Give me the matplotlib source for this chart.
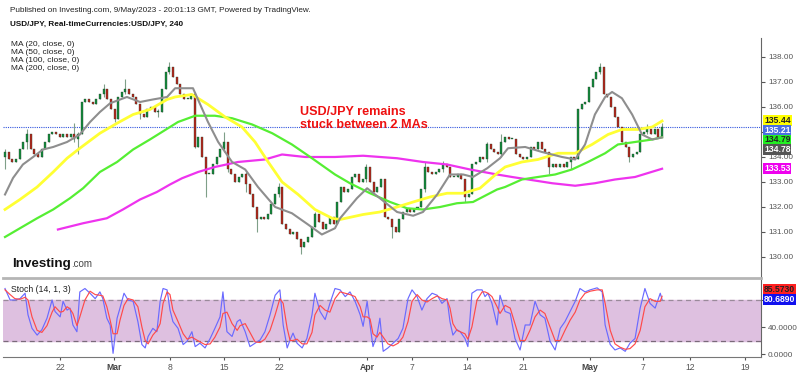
import numpy as np
import matplotlib
matplotlib.use("Agg")
import matplotlib.pyplot as plt
import matplotlib.transforms as mtransforms

plt.rcParams['font.family'] = ['Liberation Sans', 'DejaVu Sans']

# 8h-style candles (close of each bar), x = bar index
closes = [
    134.2, 133.9, 133.8, 133.9, 134.3, 134.6, 134.9, 134.3, 134.1, 134.0,
    134.3, 134.6, 134.9, 135.0, 134.9, 134.8, 134.9, 134.8, 134.9, 134.7,
    134.9, 136.2, 136.3, 136.2, 136.1, 136.3, 136.5, 136.7, 136.3, 135.9,
    135.5, 136.4, 136.6, 136.7, 136.5, 136.4, 136.1, 135.7, 135.6, 135.9,
    136.0, 135.8, 135.8, 136.7, 137.4, 137.6, 137.2, 136.9, 136.5, 136.3,
    136.3, 136.5, 134.4, 134.8, 134.0, 133.3, 133.3, 133.7, 134.0, 134.3,
    134.6, 133.5, 133.3, 133.0, 133.2, 133.3, 132.9, 132.5, 132.0, 131.5,
    131.6, 131.5, 131.7, 132.1, 132.5, 132.8, 131.3, 131.1, 130.9, 131.0,
    130.7, 130.4, 130.6, 130.8, 131.2, 131.7, 131.4, 131.1, 131.3, 131.6,
    131.3, 132.2, 132.8, 132.6, 132.7, 133.2, 133.3, 133.0, 133.1, 133.6,
    133.0, 132.6, 132.8, 133.1, 131.6, 131.5, 131.2, 131.0, 131.5, 131.8,
    131.9, 131.8, 131.9, 132.0, 132.7, 133.6, 133.4, 133.3, 133.4, 133.5,
    133.7, 133.6, 133.2, 133.2, 133.3, 133.1, 132.4, 132.5, 133.7, 133.8,
    134.0, 133.9, 134.5, 134.3, 134.2, 134.1, 134.6, 134.8, 134.7, 134.7,
    134.1, 134.0, 133.9, 134.0, 134.4, 134.3, 134.6, 134.3, 134.2, 133.6,
    133.7, 133.6, 133.7, 133.6, 133.8, 134.0, 133.9, 135.9, 136.1, 136.2,
    136.8, 137.1, 137.4, 137.6, 136.5, 136.4, 136.0, 135.6, 135.2, 134.6,
    134.4, 134.0, 134.1, 134.2, 134.9, 135.0, 135.1, 134.9, 135.1, 134.8,
    135.21,
]
first_open = 134.0

# bars with visible wicks: index, high, low
wick_idx = [0, 6, 19, 20, 27, 30, 33, 37, 42, 45, 52, 55, 60, 61, 66, 69, 75, 81,
            85, 99, 106, 115, 120, 126, 132, 136, 149, 155, 163, 171, 176, 180]
wick_high = [134.3, 135.1, 135.35, 135.0, 136.9, 135.9, 137.1, 136.1, 135.9, 137.8,
             136.6, 134.0, 135.0, 134.6, 133.4, 132.0, 132.95, 130.7, 131.8, 133.7,
             131.5, 133.8, 133.85, 133.1, 134.6, 134.9, 134.2, 134.0, 137.75, 134.3,
             135.3, 135.35]
wick_low = [133.5, 134.3, 134.6, 134.1, 136.4, 135.4, 136.5, 135.5, 135.6, 137.3,
            134.35, 132.4, 134.2, 133.4, 132.6, 131.0, 132.4, 130.1, 131.2, 133.0,
            130.75, 132.6, 133.4, 132.2, 133.8, 134.0, 133.3, 133.5, 137.3, 133.8,
            134.9, 134.8]

# moving averages
ma20_x = [0, 2.2, 4.9, 7.7, 10.4, 13.2, 17.0, 20.5, 23.3, 26.0,
          28.8, 33.4, 37.0, 40.5, 44.4, 46.6, 51.5, 55.6, 58.4, 62.2,
          65.8, 69.3, 74.0, 78.6, 83.0, 86.8, 90.4, 91.8, 96.4, 99.2,
          102.7, 107.4, 111.8, 114.5, 118.4, 121.9, 125.5, 128.2, 132.1, 135.6,
          137.8, 142.5, 147.1, 152.6, 156.2, 158.9, 161.6, 164.4, 166.3, 169.0,
          171.8, 174.5, 177.3, 180.0]
ma20_y = [132.5, 133.16, 133.7, 134.0, 134.3, 134.4, 134.6, 134.9, 135.4, 135.8,
          136.15, 136.4, 136.2, 136.3, 136.4, 136.75, 136.75, 135.4, 134.6, 133.8,
          133.5, 132.8, 132.0, 131.75, 131.3, 130.9, 131.15, 131.55, 132.35, 132.75,
          132.35, 131.8, 131.65, 131.8, 132.5, 133.3, 133.3, 133.2, 133.55, 133.95,
          134.35, 134.4, 134.2, 134.0, 133.9, 134.5, 135.7, 136.4, 136.6, 136.35,
          135.7, 134.9, 134.7, 134.78]

ma50_x = [0, 4.1, 8.8, 13.2, 17.0, 20.5, 26.0, 30.7, 35.1, 39.7,
          44.4, 46.6, 51.2, 55.6, 60.3, 64.9, 68.5, 72.1, 75.9, 80.3,
          84.9, 89.6, 91.8, 98.1, 102.7, 107.4, 111.8, 116.4, 121.1, 125.5,
          130.1, 134.8, 137.0, 141.6, 146.0, 151.5, 156.2, 160.8, 165.2, 169.0,
          173.4, 177.3, 180.0]
ma50_y = [131.9, 132.3, 132.8, 133.4, 133.95, 134.35, 134.95, 135.35, 135.7, 135.9,
          136.3, 136.4, 136.5, 136.1, 135.6, 135.2, 134.6, 133.8, 133.0, 132.5,
          131.9, 131.55, 131.5, 131.7, 131.8, 132.0, 132.2, 132.4, 132.55, 132.55,
          132.75, 133.35, 133.6, 133.8, 133.9, 134.15, 134.15, 134.5, 134.9, 135.1,
          135.1, 135.2, 135.44]

ma100_x = [0, 4.1, 8.8, 13.2, 17.8, 21.4, 26.0, 30.7, 35.1, 39.7,
           45.2, 47.4, 52.1, 57.5, 62.2, 67.7, 73.2, 78.6, 84.1, 90.4,
           94.5, 100.0, 105.5, 110.1, 114.5, 119.2, 123.8, 128.2, 134.8, 137.0,
           141.6, 146.0, 150.7, 155.3, 159.7, 164.4, 167.9, 172.6, 177.3, 180.0]
ma100_y = [130.8, 131.15, 131.55, 131.9, 132.35, 132.75, 133.4, 133.8, 134.3, 134.7,
           135.2, 135.4, 135.65, 135.65, 135.55, 135.3, 134.95, 134.5, 133.95, 133.3,
           132.95, 132.55, 132.2, 131.95, 131.9, 132.0, 132.15, 132.2, 132.7, 132.8,
           133.1, 133.2, 133.3, 133.5, 133.8, 134.15, 134.5, 134.6, 134.7, 134.79]

ma200_x = [14.5, 21.4, 27.9, 32.3, 37.0, 41.6, 45.2, 48.5, 52.9, 57.5,
           63.8, 71.2, 75.9, 82.2, 90.4, 98.1, 107.4, 114.5, 121.1, 127.4,
           134.8, 138.9, 143.3, 149.9, 156.2, 161.6, 167.1, 172.6, 180.0]
ma200_y = [131.1, 131.35, 131.55, 131.9, 132.3, 132.6, 132.9, 133.15, 133.4, 133.6,
           133.8, 133.9, 134.1, 134.0, 134.0, 134.05, 133.95, 133.8, 133.7, 133.5,
           133.3, 133.2, 133.1, 132.95, 132.85, 132.95, 133.1, 133.2, 133.53]

# stochastic (14, 1, 3)
stoch_x = [0.0, 1.4, 2.7, 4.1, 5.5, 6.3, 7.4, 8.8, 10.1, 11.5,
           12.9, 13.7, 15.1, 15.9, 17.0, 17.8, 18.6, 19.7, 20.5, 21.9,
           23.3, 24.7, 26.0, 26.8, 27.9, 28.8, 29.6, 30.7, 31.5, 32.6,
           33.7, 35.1, 36.4, 37.5, 38.4, 39.2, 40.5, 41.6, 42.5, 43.3,
           44.4, 45.2, 46.0, 47.4, 48.8, 49.9, 51.2, 52.1, 53.4, 54.8,
           56.2, 57.5, 58.9, 59.7, 60.8, 62.2, 63.6, 64.4, 65.8, 67.1,
           68.5, 69.9, 71.2, 72.6, 74.0, 75.3, 76.2, 77.3, 78.1, 78.9,
           80.0, 81.4, 82.7, 84.1, 84.9, 86.3, 87.7, 89.0, 90.4, 91.8,
           93.2, 94.5, 95.9, 97.3, 98.1, 99.2, 100.0, 100.8, 101.9, 102.7,
           103.6, 104.9, 106.3, 107.7, 109.0, 110.4, 111.5, 112.9, 114.2, 115.6,
           117.0, 118.4, 119.7, 121.1, 121.9, 122.7, 123.8, 124.7, 126.0, 126.8,
           127.9, 129.3, 130.7, 131.5, 132.3, 133.4, 134.8, 135.6, 137.0, 138.4,
           139.7, 141.1, 142.5, 143.8, 145.2, 146.6, 147.9, 149.3, 150.7, 152.1,
           153.4, 154.8, 156.2, 157.5, 158.9, 160.3, 162.2, 163.6, 164.4, 165.8,
           167.1, 168.5, 169.9, 171.2, 172.6, 174.0, 175.3, 176.7, 178.1, 179.5,
           180.0]
stoch_k = [97, 80, 80, 82, 90, 58, 38, 28, 36, 53,
           80, 63, 55, 78, 65, 68, 43, 33, 92, 97,
           90, 82, 92, 82, 53, 43, 1, 53, 68, 90,
           80, 78, 48, 14, 9, 26, 38, 33, 78, 97,
           95, 65, 48, 38, 14, 19, 33, 11, 16, 9,
           23, 38, 55, 92, 33, 26, 48, 51, 33, 11,
           16, 21, 33, 58, 87, 95, 43, 9, 21, 31,
           16, 9, 23, 58, 90, 63, 51, 75, 97, 95,
           85, 92, 78, 58, 41, 78, 43, 11, 28, 53,
           4, 9, 16, 23, 38, 82, 95, 85, 65, 82,
           90, 87, 75, 82, 48, 28, 36, 33, 23, 11,
           90, 95, 95, 85, 90, 75, 43, 87, 63, 60,
           23, 6, 43, 43, 78, 58, 53, 19, 6, 38,
           48, 63, 78, 97, 92, 95, 98, 92, 43, 14,
           6, 9, 4, 16, 23, 68, 97, 75, 68, 90,
           80.689]
stoch_d = [95, 88, 82, 81, 84, 80, 55, 35, 32, 42,
           62, 70, 62, 63, 70, 67, 60, 42, 55, 80,
           93, 88, 87, 86, 70, 50, 30, 30, 50, 72,
           82, 80, 70, 40, 20, 15, 28, 35, 45, 75,
           92, 88, 65, 48, 30, 22, 25, 22, 18, 14,
           15, 25, 40, 60, 62, 45, 35, 42, 45, 32,
           18, 17, 22, 35, 58, 82, 75, 38, 20, 20,
           22, 15, 15, 32, 58, 72, 65, 62, 82, 92,
           90, 88, 85, 70, 55, 55, 52, 30, 25, 32,
           25, 15, 12, 16, 25, 48, 78, 88, 80, 77,
           82, 86, 82, 80, 68, 45, 35, 33, 30, 22,
           40, 80, 92, 92, 90, 85, 70, 60, 72, 68,
           45, 20, 20, 35, 55, 65, 60, 40, 20, 20,
           35, 50, 62, 80, 90, 93, 95, 95, 75, 35,
           15, 10, 7, 8, 15, 35, 70, 82, 78, 78,
           85.573]

# date ticks (in bar index units)
date_pos = [15.1, 29.9, 45.2, 60.0, 75.1, 99.2, 111.5, 126.6, 141.9, 160.3, 174.8, 187.7, 202.7]
date_lab = ['22', 'Mar', '8', '15', '22', 'Apr', '7', '14', '21', 'May', '7', '12', '19']
price_ticks = [130, 131, 132, 133, 134, 135, 136, 137, 138]
last_price = 135.21

#FIGURE
fig = plt.figure(figsize=(8, 3.72), dpi=100)
ax = fig.add_axes([0.00375, 0.2527, 0.9475, 0.6452])
ax2 = fig.add_axes([0.00375, 0.0403, 0.9475, 0.207])

#CANDLES
n = len(closes)
x = np.arange(n)
c = np.array(closes)
o = np.concatenate([[first_open], c[:-1]])
hi = np.maximum(o, c)
lo = np.minimum(o, c)
hi[wick_idx] = np.maximum(hi[wick_idx], wick_high)
lo[wick_idx] = np.minimum(lo[wick_idx], wick_low)
up = c >= o
cols = np.where(up, '#128c3c', '#b8261c')
ax.vlines(x, lo, hi, color='#7f9f88', lw=0.8, zorder=2)
ax.bar(x, np.maximum(np.abs(c - o), 0.04), bottom=np.minimum(o, c), width=0.55,
       color=cols, edgecolor='#2b3b2b', linewidth=0.25, zorder=3)

#MOVING AVERAGES
ax.plot(ma200_x, ma200_y, color='#ee33ee', lw=1.6, zorder=4)
ax.plot(ma100_x, ma100_y, color='#55ee33', lw=1.6, zorder=4)
ax.plot(ma50_x, ma50_y, color='#ffff33', lw=2.0, zorder=4)
ax.plot(ma20_x, ma20_y, color='#8e8e8e', lw=1.5, zorder=4)
ax.axhline(last_price, color='#3355dd', ls=(0, (1, 1)), lw=0.8, zorder=1)

ax.set_xlim(-0.55, 207.1)
ax.set_ylim(129.16, 138.76)
ax.set_xticks([])
ax.yaxis.tick_right()
ax.set_yticks(price_ticks)
# 135.00 sits behind the price boxes on the original
ax.set_yticklabels(['' if t == 135 else '%.2f' % t for t in price_ticks])
ax.tick_params(axis='y', length=3, pad=2, labelsize=5.9, colors='#555555')
for s in ['top', 'left']:
    ax.spines[s].set_visible(False)
ax.spines['right'].set_color('#666666')
ax.spines['bottom'].set_color('#b5b5b5')
ax.spines['bottom'].set_linewidth(2)

# price labels on the right scale
tr = mtransforms.blended_transform_factory(ax.transAxes, ax.transData)
lab_boxes = [(135.44, 135.46, '#ffff00', '#222222'),
             (135.21, 135.07, '#4a6fe0', 'white'),
             (134.79, 134.68, '#22ee22', '#222222'),
             (134.78, 134.29, '#555555', 'white'),
             (133.53, 133.53, '#ee00ee', 'white')]
for val, ypos, fc, tc in lab_boxes:
    ax.text(1.004, ypos, '%.2f' % val, transform=tr, fontsize=6.2, color=tc,
            fontweight='bold', va='center', ha='left', clip_on=False, zorder=10,
            bbox=dict(boxstyle='square,pad=0.1', fc=fc, ec='none'))

#STOCH PANEL
ax2.axhspan(20, 80, color='#dec0e0', zorder=0)
ax2.axhline(80, color='#9a8a9a', ls=(0, (4, 3)), lw=0.9, zorder=1)
ax2.axhline(20, color='#7a6a7a', ls=(0, (4, 3)), lw=0.9, zorder=1)
ax2.plot(stoch_x, stoch_k, color='#6a6aff', lw=0.85, zorder=3)
ax2.plot(stoch_x, stoch_d, color='#ff4a4a', lw=0.85, zorder=3)
ax2.set_xlim(-0.55, 207.1)
ax2.set_ylim(-4.44, 109.6)
ax2.yaxis.tick_right()
ax2.set_yticks([0, 40, 80])
ax2.set_yticklabels(['0.0000', '40.0000', ''])
ax2.tick_params(axis='y', length=3, pad=2, labelsize=5.9, colors='#555555')
ax2.set_xticks(date_pos)
ax2.set_xticklabels(date_lab)
ax2.tick_params(axis='x', length=2, pad=2, labelsize=6.2, colors='#555555')
for lbl in ax2.get_xticklabels():
    if lbl.get_text() in ('Mar', 'Apr', 'May'):
        lbl.set_fontweight('bold')
        lbl.set_color('#444444')
for s in ['top', 'left']:
    ax2.spines[s].set_visible(False)
ax2.spines['right'].set_color('#666666')
ax2.spines['bottom'].set_color('#777777')

tr2 = mtransforms.blended_transform_factory(ax2.transAxes, ax2.transData)
ax2.text(1.004, 95.5, '%.4f' % stoch_d[-1], transform=tr2, fontsize=6.2, color='#222222',
         fontweight='bold', va='center', ha='left', clip_on=False, zorder=10,
         bbox=dict(boxstyle='square,pad=0.08', fc='#ff2020', ec='none'))
ax2.text(1.004, 81.0, '%.4f' % stoch_k[-1], transform=tr2, fontsize=6.2, color='white',
         fontweight='bold', va='center', ha='left', clip_on=False, zorder=10,
         bbox=dict(boxstyle='square,pad=0.08', fc='#1010ee', ec='none'))
ax2.text(0.011, 0.93, 'Stoch (14, 1, 3)', transform=ax2.transAxes, fontsize=6.3,
         color='#222222', va='top', ha='left')

#TEXTS
fig.text(10 / 800, 1 - 11 / 372, 'Published on Investing.com, 9/May/2023 - 20:01:13 GMT, Powered by TradingView.',
         fontsize=5.85, color='#222222', va='center')
fig.text(10 / 800, 1 - 24 / 372, 'USD/JPY, Real-timeCurrencies:USD/JPY, 240',
         fontsize=5.85, fontweight='bold', color='#111111', va='center')
for k, lab in enumerate(['MA (20, close, 0)', 'MA (50, close, 0)', 'MA (100, close, 0)', 'MA (200, close, 0)']):
    fig.text(11 / 800, 1 - (44.5 + 8 * k) / 372, lab, fontsize=6, color='#222222', va='center')

# annotation (x in bar index, y in price)
ax.text(80.8, 135.55, 'USD/JPY remains\nstuck between 2 MAs', fontsize=9.1, fontweight='bold',
        color='#ee1111', va='center', ha='left', linespacing=1.12, zorder=6)

t = fig.text(12 / 800, 1 - 264 / 372, 'Investing', fontsize=9.6, fontweight='bold',
             color='#111111', va='center')
ax.annotate('.com', xy=(1, 0.12), xycoords=t, fontsize=7, color='#444444',
            va='bottom', ha='left', annotation_clip=False)

fig.savefig('out.png', dpi=100)
